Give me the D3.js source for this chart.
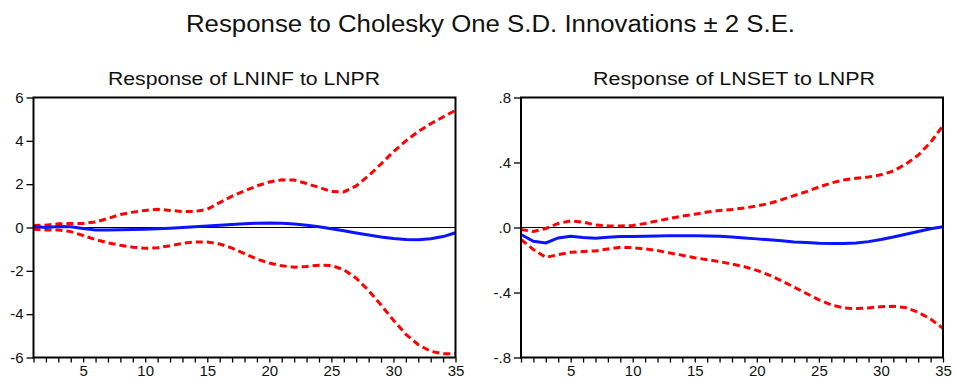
<!DOCTYPE html>
<html>
<head>
<meta charset="utf-8">
<script src="https://cdn.jsdelivr.net/npm/d3@7"></script>
<style>
  body { margin: 0; background: #fff; }
  svg { display: block; font-family: "Liberation Sans", Arial, sans-serif; }
</style>
</head>
<body>
<script>
const W = 954, H = 381;

const mainTitle = 'Response to Cholesky One S.D. Innovations \u00b1 2 S.E.';
const periods = d3.range(1, 36);
const xTicks = [5, 10, 15, 20, 25, 30, 35];

// Response of LNINF to LNPR
const lninfTitle = 'Response of LNINF to LNPR';
const lninfTicks = [-6, -4, -2, 0, 2, 4, 6];
const lninfResp = [0.05, 0.0, 0.05, 0.03, -0.05, -0.12, -0.12, -0.1, -0.09, -0.08,
  -0.06, -0.03, 0.0, 0.03, 0.07, 0.1, 0.14, 0.17, 0.2, 0.21,
  0.2, 0.16, 0.1, 0.03, -0.06, -0.15, -0.25, -0.35, -0.44, -0.51,
  -0.55, -0.56, -0.52, -0.42, -0.24];
const lninfUpper = [0.09, 0.11, 0.17, 0.19, 0.19, 0.25, 0.42, 0.6, 0.71, 0.79,
  0.84, 0.79, 0.74, 0.74, 0.84, 1.15, 1.45, 1.69, 1.92, 2.1,
  2.2, 2.19, 2.03, 1.85, 1.66, 1.64, 1.92, 2.39, 2.93, 3.5,
  4.0, 4.43, 4.79, 5.1, 5.41];
const lninfLower = [-0.08, -0.12, -0.12, -0.19, -0.37, -0.56, -0.71, -0.82, -0.91, -0.96,
  -0.93, -0.84, -0.73, -0.67, -0.67, -0.76, -0.95, -1.21, -1.46, -1.64,
  -1.77, -1.83, -1.8, -1.74, -1.75, -1.95, -2.34, -2.91, -3.58, -4.28,
  -4.93, -5.41, -5.71, -5.83, -5.83];

// Response of LNSET to LNPR
const lnsetTitle = 'Response of LNSET to LNPR';
const lnsetTicks = [-0.8, -0.4, 0, 0.4, 0.8];
const lnsetResp = [-0.043, -0.085, -0.095, -0.064, -0.054, -0.062, -0.066, -0.06, -0.056, -0.056,
  -0.054, -0.052, -0.05, -0.05, -0.05, -0.052, -0.054, -0.058, -0.064, -0.07,
  -0.076, -0.082, -0.089, -0.093, -0.097, -0.099, -0.099, -0.095, -0.087, -0.074,
  -0.058, -0.041, -0.025, -0.008, 0.004];
const lnsetUpper = [-0.012, -0.025, -0.006, 0.025, 0.041, 0.033, 0.016, 0.01, 0.01, 0.012,
  0.025, 0.041, 0.056, 0.07, 0.082, 0.095, 0.105, 0.111, 0.12, 0.132,
  0.148, 0.171, 0.196, 0.221, 0.249, 0.274, 0.293, 0.303, 0.311, 0.324,
  0.348, 0.39, 0.445, 0.524, 0.627];
const lnsetLower = [-0.074, -0.136, -0.184, -0.167, -0.153, -0.148, -0.144, -0.132, -0.122, -0.124,
  -0.132, -0.142, -0.157, -0.171, -0.186, -0.198, -0.21, -0.225, -0.241, -0.264,
  -0.293, -0.328, -0.367, -0.406, -0.445, -0.476, -0.495, -0.499, -0.495, -0.487,
  -0.485, -0.493, -0.522, -0.563, -0.621];

const svg = d3.select('body').append('svg')
  .attr('width', W)
  .attr('height', H);

svg.append('text')
  .attr('x', 186)
  .attr('y', 31.5)
  .attr('font-size', 23)
  .attr('textLength', 609)
  .attr('lengthAdjust', 'spacingAndGlyphs')
  .attr('fill', '#111')
  .text(mainTitle);

function drawPanel(p) {
  const x = d3.scaleLinear().domain([1, 35]).range([p.left, p.right]);
  const y = d3.scaleLinear().domain(p.domain).range([357.5, 97.5]);
  const g = svg.append('g');

  g.append('text')
    .attr('x', p.titleX)
    .attr('y', 85)
    .attr('font-size', 18)
    .attr('textLength', p.titleW)
    .attr('lengthAdjust', 'spacingAndGlyphs')
    .attr('fill', '#111')
    .text(p.title);

  // zero line
  g.append('line')
    .attr('x1', p.left).attr('x2', p.right)
    .attr('y1', y(0)).attr('y2', y(0))
    .attr('stroke', '#000')
    .attr('stroke-width', 1);

  const line = d3.line()
    .x((d, i) => x(periods[i]))
    .y((d) => y(d));

  [p.upper, p.lower].forEach((s) => {
    g.append('path')
      .datum(s)
      .attr('d', line)
      .attr('fill', 'none')
      .attr('stroke', '#ff0000')
      .attr('stroke-width', 3)
      .attr('stroke-dasharray', '7,4');
  });

  g.append('path')
    .datum(p.resp)
    .attr('d', line)
    .attr('fill', 'none')
    .attr('stroke', '#0a14ff')
    .attr('stroke-width', 3);

  // frame
  g.append('rect')
    .attr('x', p.left).attr('y', 97.5)
    .attr('width', p.right - p.left)
    .attr('height', 260)
    .attr('fill', 'none')
    .attr('stroke', '#000')
    .attr('stroke-width', 2);

  const yAxis = g.append('g')
    .attr('transform', `translate(${p.left},0)`)
    .call(d3.axisLeft(y).tickValues(p.ticks).tickSize(7).tickPadding(3)
      .tickFormat(p.fmt));
  yAxis.select('.domain').remove();
  yAxis.selectAll('text').attr('font-size', 15).attr('font-family', null).attr('fill', '#111');

  const xAxis = g.append('g')
    .attr('transform', `translate(0,357.5)`)
    .call(d3.axisBottom(x).tickValues(periods).tickSize(5).tickPadding(3)
      .tickFormat((d) => (xTicks.includes(d) ? d : '')));
  xAxis.select('.domain').remove();
  xAxis.selectAll('text').attr('font-size', 15).attr('font-family', null).attr('fill', '#111');
  svg.selectAll('.tick line').attr('stroke-width', 1.3);
}

drawPanel({
  title: lninfTitle, titleX: 108, titleW: 272,
  left: 33.5, right: 455.5, domain: [-6, 6], ticks: lninfTicks,
  fmt: (d) => String(d),
  resp: lninfResp, upper: lninfUpper, lower: lninfLower
});

drawPanel({
  title: lnsetTitle, titleX: 593, titleW: 282,
  left: 521, right: 943, domain: [-0.8, 0.8], ticks: lnsetTicks,
  fmt: (d) => d.toFixed(1).replace('0.', '.'),
  resp: lnsetResp, upper: lnsetUpper, lower: lnsetLower
});
</script>
</body>
</html>
